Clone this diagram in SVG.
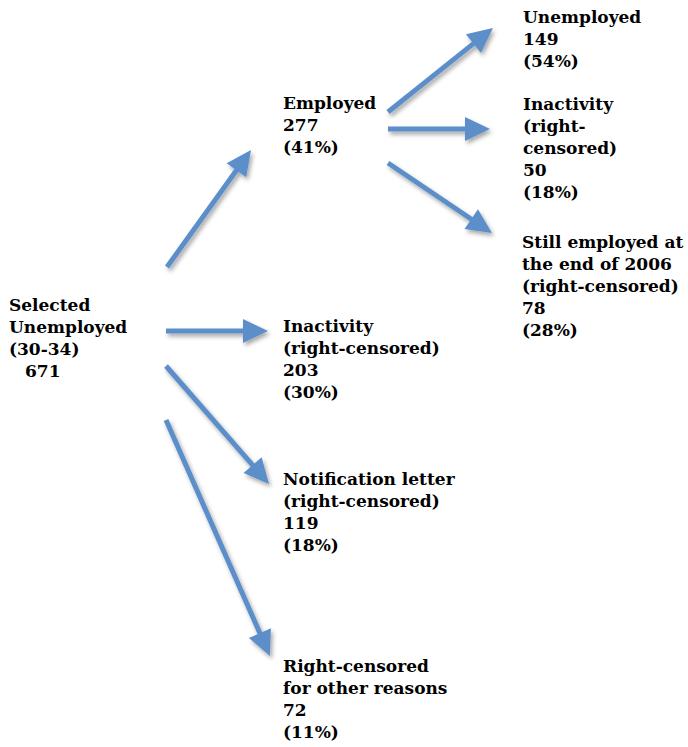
<svg xmlns="http://www.w3.org/2000/svg" width="688" height="747" viewBox="0 0 688 747">
<defs>
<style>
text{font-family:"DejaVu Serif","Liberation Serif",serif;font-weight:bold;font-size:17px;fill:#000}
.arr{stroke:#5B8FC9;stroke-width:5;fill:none;marker-end:url(#head)}
</style>
<marker id="head" viewBox="-2 -12 25 24" refX="0" refY="0" markerWidth="25" markerHeight="24" markerUnits="userSpaceOnUse" orient="auto" overflow="visible">
<path d="M-2,-12 L23,0 L-2,12 Z" fill="#5B8FC9"/>
</marker>
<filter id="sh" x="-20%" y="-20%" width="140%" height="140%">
<feDropShadow dx="2" dy="3" stdDeviation="2" flood-color="#000" flood-opacity="0.35"/>
</filter>
</defs>
<rect width="688" height="747" fill="#fff"/>
<g id="connectors" filter="url(#sh)">
<line class="arr" x1="167" y1="267" x2="237.6" y2="168.7"/>
<line class="arr" x1="166" y1="331" x2="245" y2="331"/>
<line class="arr" x1="166" y1="366" x2="253.9" y2="466.7"/>
<line class="arr" x1="166" y1="420" x2="260.7" y2="635"/>
<line class="arr" x1="388" y1="112" x2="475" y2="42.4"/>
<line class="arr" x1="388" y1="129" x2="467" y2="129"/>
<line class="arr" x1="388" y1="163" x2="472.9" y2="220.2"/>
</g>
<g id="root">
<text x="9" y="311">Selected</text>
<text x="9" y="333">Unemployed</text>
<text x="9" y="355">(30-34)</text>
<text x="25" y="377">671</text>
</g>
<g id="employed">
<text x="283" y="109">Employed</text>
<text x="283" y="131">277</text>
<text x="283" y="153">(41%)</text>
</g>
<g id="unemployed">
<text x="523" y="23">Unemployed</text>
<text x="523" y="45">149</text>
<text x="523" y="67">(54%)</text>
</g>
<g id="inactivity2">
<text x="523" y="110">Inactivity</text>
<text x="523" y="132">(right-</text>
<text x="523" y="154">censored)</text>
<text x="523" y="176">50</text>
<text x="523" y="198">(18%)</text>
</g>
<g id="still-employed">
<text x="522" y="248">Still employed at</text>
<text x="522" y="270">the end of 2006</text>
<text x="522" y="292">(right-censored)</text>
<text x="522" y="314">78</text>
<text x="522" y="336">(28%)</text>
</g>
<g id="inactivity">
<text x="283" y="332">Inactivity</text>
<text x="283" y="354">(right-censored)</text>
<text x="283" y="376">203</text>
<text x="283" y="398">(30%)</text>
</g>
<g id="notification">
<text x="283" y="485">Notification letter</text>
<text x="283" y="507">(right-censored)</text>
<text x="283" y="529">119</text>
<text x="283" y="551">(18%)</text>
</g>
<g id="other">
<text x="283" y="672">Right-censored</text>
<text x="283" y="694">for other reasons</text>
<text x="283" y="716">72</text>
<text x="283" y="738">(11%)</text>
</g>
</svg>
